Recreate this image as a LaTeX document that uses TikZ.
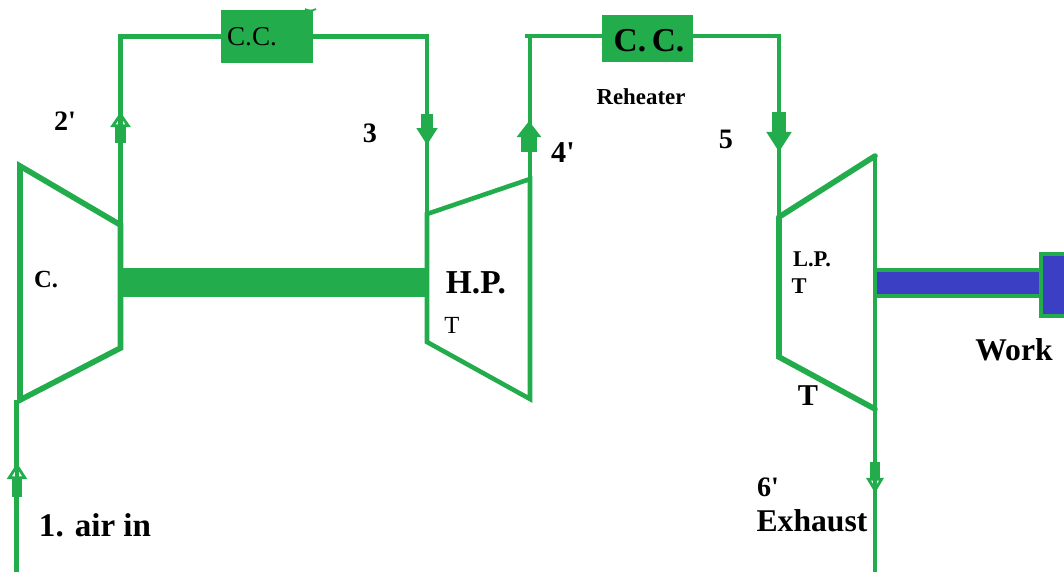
\documentclass[tikz,border=0pt]{standalone}
\usepackage{fontspec}
\setmainfont{Liberation Serif}
\usetikzlibrary{arrows.meta}
\definecolor{pipegreen}{HTML}{22AC4B}
\definecolor{shaftblue}{HTML}{3B3FC4}
\tikzset{
  pipe/.style={draw=pipegreen, line width=1.2pt},
  casing/.style={draw=pipegreen, line width=1.6pt, line cap=round},
  thinwall/.style={draw=pipegreen, line width=1.3pt, line cap=round},
  flow/.style n args={3}{draw=pipegreen, line width=#1, -{Triangle[width=#2,length=#3,fill=pipegreen]}},
  flowopen/.style n args={3}{draw=pipegreen, line width=#1, -{Triangle[width=#2,length=#3,fill=white,line width=0.8pt]}},
  ccbox/.style={fill=pipegreen, inner sep=0pt, outer sep=0pt},
  lbl/.style={font=\bfseries\fontsize{#1}{#1}\selectfont, text=black, inner sep=0pt},
  plain/.style={font=\fontsize{#1}{#1}\selectfont, text=black, inner sep=0pt}
}
\begin{document}
\begin{tikzpicture}[x=0.01cm,y=-0.01cm]
\useasboundingbox (0,0) rectangle (1064,572);

% Puntos del compresor y turbinas
\coordinate (ctl) at (20,166);
\coordinate (ctr) at (120.5,225);
\coordinate (cbr) at (120.5,348);
\coordinate (cbl) at (20,400);
\coordinate (hptl) at (427,214);
\coordinate (hptr) at (530,179);
\coordinate (hpbr) at (530,399);
\coordinate (hpbl) at (427,342);
\coordinate (lptl) at (779,217);
\coordinate (lptr) at (875,156);
\coordinate (lpbr) at (875,409);
\coordinate (lpbl) at (779,357);
\coordinate (airin) at (16.5,572);
\coordinate (airtop) at (16.5,400);
\coordinate (exhend) at (875,572);
\coordinate (stub) at (525,36);

% Camaras de combustion
\node[ccbox, minimum width=0.92cm, minimum height=0.53cm] (cca) at (267,36.5) {};
\node[ccbox, minimum width=0.91cm, minimum height=0.47cm] (ccb) at (647.5,38.5) {};
\node[plain=7.7] (ccatext) at (252,37) {C.C.};
\node[lbl=9.5] (ccbtext) at (649,41) {C.\,C.};
\draw[pipegreen, line width=0.5pt] (305,9) .. controls (309,11) and (312,11) .. (316,9);

% Tuberias
\draw[pipe] (cca.west) -| (ctr);
\draw[pipe] (cca.east) -| (hptl);
\draw[pipe] (stub) -- (stub -| ccb.west);
\draw[pipe] (stub -| hptr) -- (hptr);
\draw[pipe] (stub -| ccb.east) -| (lptl);
\draw[pipe] (airin) -- (airtop);
\draw[pipe] (lpbr) -- (exhend);

% Compresor
\draw[casing] (ctl) -- (ctr) -- (cbr) -- (cbl) -- cycle;

% Turbina de alta
\draw[thinwall] (hptl) -- (hptr) -- (hpbr) -- (hpbl) -- cycle;

% Turbina de baja
\draw[casing] (lptl) -- (lptr);
\draw[casing] (lptl) -- (lpbl) -- (lpbr);
\draw[pipe] (lptr) -- (lpbr);

% Eje verde
\fill[pipegreen] (cbr |- 0,268) rectangle (427,297);

% Eje azul y carga
\draw[draw=pipegreen, fill=shaftblue, line width=0.9pt] (875,270) rectangle (1041,296);
\draw[draw=pipegreen, fill=shaftblue, line width=1.1pt] (1041,254) rectangle (1070,316);

% Flechas de flujo
\coordinate (fa) at (17,497);
\coordinate (fb) at (17,463);
\draw[flowopen={3pt}{5.7pt}{4.6pt}] (fa) -- (fb);
\draw[pipe] (fa) -- (fb);
\coordinate (fc) at (120.5,143);
\coordinate (fd) at (120.5,112);
\draw[flowopen={3.2pt}{5.7pt}{4.3pt}] (fc) -- (fd);
\draw[pipe] (fc) -- (fd);
\coordinate (fe) at (427,114);
\coordinate (ff) at (427,145);
\draw[flow={3.4pt}{5.7pt}{4.8pt}] (fe) -- (ff);
\coordinate (fg) at (529,152);
\coordinate (fh) at (529,121);
\draw[flow={4.6pt}{6.8pt}{4.6pt}] (fg) -- (fh);
\coordinate (fi) at (779,112);
\coordinate (fj) at (779,152);
\draw[flow={3.9pt}{6.8pt}{5.7pt}] (fi) -- (fj);
\coordinate (fk) at (875,462);
\coordinate (fl) at (875,493);
\draw[flowopen={2.8pt}{4.9pt}{4.3pt}] (fk) -- (fl);
\draw[pipe] (fk) -- (fl);

% Etiquetas
\node[lbl=8] (ltwo) at (65,121) {2\textquotesingle};
\node[lbl=8] (lthree) at (370,133) {3};
\node[lbl=8.6] (lfour) at (563,153) {4\textquotesingle};
\node[lbl=8] (lfive) at (726,139) {5};
\node[lbl=6.5] (lreheat) at (641,97) {Reheater};
\node[lbl=7] (lc) at (46,280) {C.};
\node[lbl=9.5] (lhp) at (476,283) {H.P.};
\node[plain=7] (lhpt) at (452,325) {T};
\node[lbl=6.4] (llp) at (812,259) {L.P.};
\node[lbl=6.4] (llpt) at (799,286) {T};
\node[lbl=8.6] (lt) at (808,396) {T};
\node[lbl=9] (lwork) at (1014,350) {Work};
\node[lbl=8] (lsix) at (768,487) {6\textquotesingle};
\node[lbl=9] (lexh) at (812,521) {Exhaust};
\node[lbl=9.4] (lair) at (95,525) {1. air in};
\end{tikzpicture}
\end{document}
